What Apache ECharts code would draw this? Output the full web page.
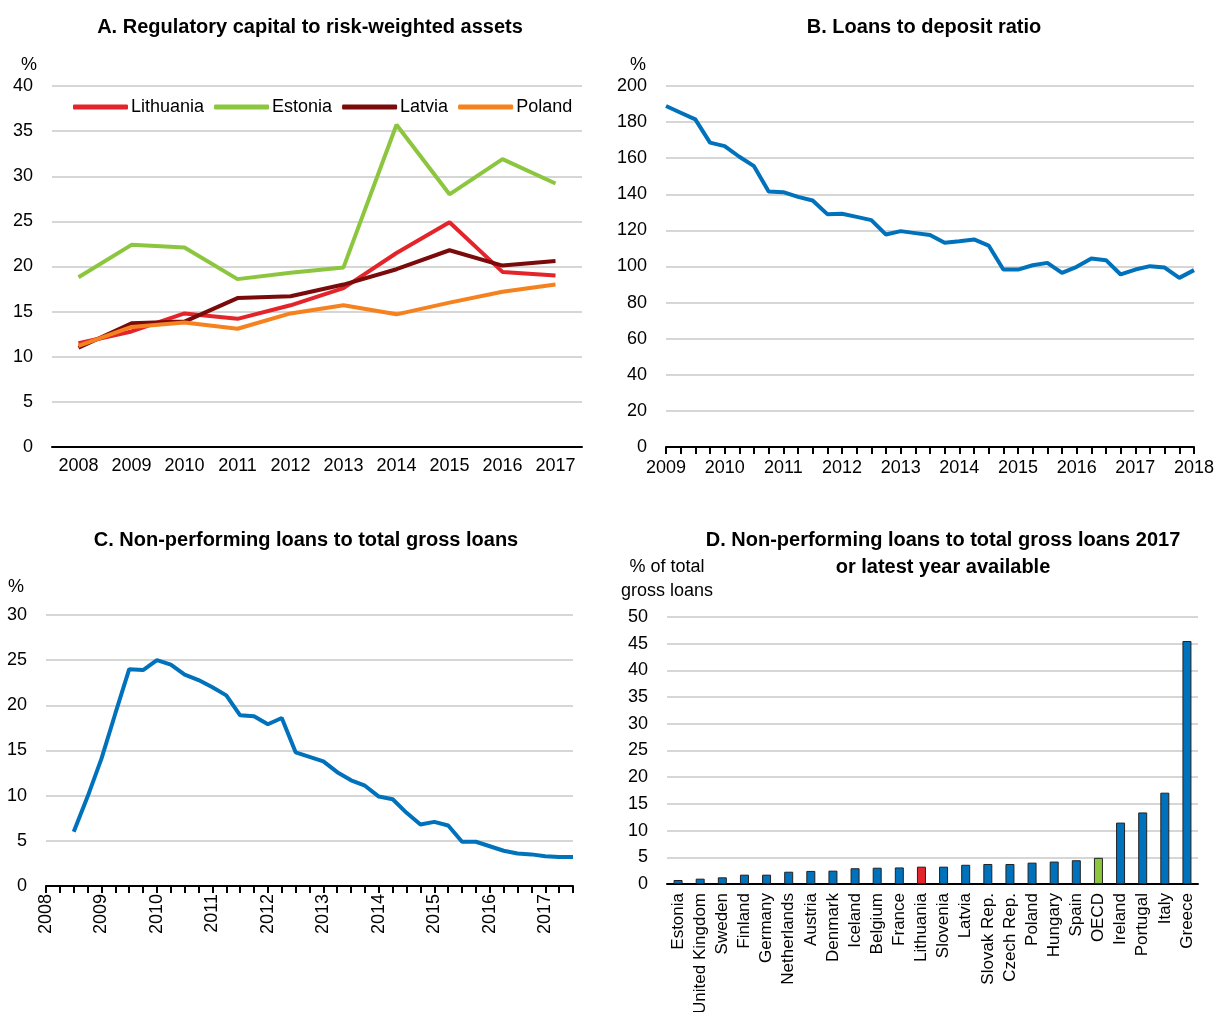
<!DOCTYPE html>
<html>
<head>
<meta charset="utf-8">
<script src="https://cdn.jsdelivr.net/npm/echarts@6/dist/echarts.min.js"></script>
<style>
  html, body { margin: 0; padding: 0; background: #fff; }
  #chart { width: 1214px; height: 1012px; }
</style>
</head>
<body>
<div id="chart"></div>
<script>
// Panel A: regulatory capital to risk-weighted assets (annual)
var yearsA = ['2008', '2009', '2010', '2011', '2012', '2013', '2014', '2015', '2016', '2017'];
var lithuania = [11.5, 12.8, 14.8, 14.2, 15.7, 17.6, 21.5, 24.9, 19.4, 19.0];
var estonia   = [18.8, 22.4, 22.1, 18.6, 19.3, 19.9, 35.7, 28.0, 31.9, 29.2];
var latvia    = [11.0, 13.7, 13.9, 16.5, 16.7, 18.0, 19.7, 21.8, 20.1, 20.6];
var poland    = [11.2, 13.3, 13.8, 13.1, 14.8, 15.7, 14.7, 16.0, 17.2, 18.0];

// Panel B: loans to deposit ratio (quarterly, 2009 to 2018)
var yearsB = ['2009', '2010', '2011', '2012', '2013', '2014', '2015', '2016', '2017', '2018'];
var loanDeposit = [188.9, 185.2, 181.5, 168.6, 166.7, 160.8, 155.6, 141.6, 141.2, 138.6,
  136.6, 129.0, 129.2, 127.5, 125.7, 117.7, 119.6, 118.5, 117.4, 113.1,
  114.0, 115.0, 111.6, 98.3, 98.3, 100.7, 102.0, 96.5, 99.8, 104.4,
  103.5, 95.6, 98.3, 100.2, 99.4, 93.7, 98.0];

// Panel C: non-performing loans (quarterly, 2008 to 2017 Q3)
var yearsC = ['2008', '2009', '2010', '2011', '2012', '2013', '2014', '2015', '2016', '2017'];
var npl = ['-', '-', 6.0, 9.9, 14.1, 19.1, 24.0, 23.9, 25.0, 24.5,
  23.4, 22.8, 22.0, 21.1, 18.9, 18.8, 17.9, 18.6, 14.8, 14.3,
  13.8, 12.6, 11.7, 11.1, 9.9, 9.6, 8.1, 6.8, 7.1, 6.7,
  4.9, 4.9, 4.4, 3.9, 3.6, 3.5, 3.3, 3.2, 3.2];

// Panel D: NPL 2017 by country
var countries = ['Estonia', 'United Kingdom', 'Sweden', 'Finland', 'Germany', 'Netherlands', 'Austria',
  'Denmark', 'Iceland', 'Belgium', 'France', 'Lithuania', 'Slovenia', 'Latvia', 'Slovak Rep.',
  'Czech Rep.', 'Poland', 'Hungary', 'Spain', 'OECD', 'Ireland', 'Portugal', 'Italy', 'Greece'];
var nplCountry = [0.75, 1.0, 1.25, 1.75, 1.75, 2.3, 2.45, 2.5, 2.95, 3.05, 3.1, 3.25, 3.25,
  3.6, 3.75, 3.75, 4.0, 4.2, 4.45, 4.9, 11.5, 13.4, 17.1, 45.5];

var FONT = "'Liberation Sans Narrow', 'Arial Narrow', 'Liberation Sans', sans-serif";
var BLUE = '#0072bc';

// quarter categories, year label on first quarter
function quarters(years, n) {
  var out = [];
  for (var i = 0; i < n; i++) {
    out.push(i % 4 === 0 ? years[i / 4] : '');
  }
  return out;
}
var catB = quarters(yearsB, loanDeposit.length);
var catC = quarters(yearsC, npl.length);

var barData = nplCountry.map(function (v, i) {
  var c = BLUE;
  if (countries[i] === 'Lithuania') c = '#e3242b';
  if (countries[i] === 'OECD') c = '#8cc63f';
  return { value: v, itemStyle: { color: c } };
});

var axisLine = { lineStyle: { color: '#000', width: 2 } };
var tick = { lineStyle: { color: '#000', width: 2 }, length: 7 };
var split = { show: true, lineStyle: { color: '#d6d6d6', width: 2 } };
var lbl = { color: '#000', fontSize: 18, fontFamily: FONT };
var titleStyle = { color: '#000', fontSize: 20, fontWeight: 'bold', fontFamily: FONT, lineHeight: 27 };

function yAx(idx, max, interval, name, pad, gap, extra) {
  var o = {
    type: 'value', gridIndex: idx, min: 0, max: max, interval: interval,
    name: name, nameLocation: 'end', nameGap: gap,
    nameTextStyle: { color: '#000', fontSize: 18, fontFamily: FONT, align: 'right', padding: [0, pad, 0, 0], lineHeight: 24 },
    axisLine: { show: false }, axisTick: { show: false },
    axisLabel: Object.assign({ margin: 19 }, lbl),
    splitLine: split
  };
  return Object.assign(o, extra || {});
}

var myChart = echarts.init(document.getElementById('chart'));
myChart.setOption({
  animation: false,
  title: [
    { text: 'A. Regulatory capital to risk-weighted assets', left: 310, top: 14, textAlign: 'center', padding: 0, textStyle: titleStyle },
    { text: 'B. Loans to deposit ratio', left: 924, top: 14, textAlign: 'center', padding: 0, textStyle: titleStyle },
    { text: 'C. Non-performing loans to total gross loans', left: 306, top: 527, textAlign: 'center', padding: 0, textStyle: titleStyle },
    { text: 'D. Non-performing loans to total gross loans 2017\nor latest year available', left: 943, top: 527, textAlign: 'center', padding: 0, textStyle: titleStyle }
  ],
  legend: {
    data: ['Lithuania', 'Estonia', 'Latvia', 'Poland'],
    left: 68, top: 93, itemWidth: 55, itemHeight: 5, itemGap: 10, icon: 'roundRect',
    textStyle: { color: '#000', fontSize: 18, fontFamily: FONT, padding: [0, 0, 0, -2] }
  },
  grid: [
    { left: 52, right: 632, top: 86, bottom: 565, outerBoundsMode: 'none' },
    { left: 666, right: 20, top: 86, bottom: 565, outerBoundsMode: 'none' },
    { left: 46, right: 641, top: 615, bottom: 126, outerBoundsMode: 'none' },
    { left: 667, right: 16, top: 617, bottom: 128, outerBoundsMode: 'none' }
  ],
  xAxis: [
    { type: 'category', gridIndex: 0, data: yearsA, boundaryGap: true,
      axisLine: axisLine, axisTick: tick, axisLabel: Object.assign({ margin: 10, interval: 0 }, lbl) },
    { type: 'category', gridIndex: 1, data: catB, boundaryGap: false,
      axisLine: axisLine, axisTick: Object.assign({ interval: 0 }, tick),
      axisLabel: Object.assign({ margin: 12, interval: 3 }, lbl) },
    { type: 'category', gridIndex: 2, data: catC, boundaryGap: false,
      axisLine: axisLine, axisTick: Object.assign({ interval: 0 }, tick),
      axisLabel: Object.assign({ margin: 8, interval: 3, rotate: 90 }, lbl) },
    { type: 'category', gridIndex: 3, data: countries, boundaryGap: true,
      axisLine: axisLine, axisTick: tick,
      axisLabel: Object.assign({}, lbl, { margin: 9, interval: 0, rotate: 90, fontSize: 17 }) }
  ],
  yAxis: [
    yAx(0, 40, 5, '%', 15, 9),
    yAx(1, 200, 20, '%', 20, 9),
    yAx(2, 30, 5, '%', 22, 16),
    yAx(3, 50, 5, '% of total\ngross loans', 0, 14, {
      nameTextStyle: { color: '#000', fontSize: 18, fontFamily: FONT, align: 'center', lineHeight: 24 }
    })
  ],
  series: [
    { name: 'Lithuania', type: 'line', xAxisIndex: 0, yAxisIndex: 0, data: lithuania, symbol: 'none', color: '#e3242b', lineStyle: { width: 4 } },
    { name: 'Estonia', type: 'line', xAxisIndex: 0, yAxisIndex: 0, data: estonia, symbol: 'none', color: '#8cc63f', lineStyle: { width: 4 } },
    { name: 'Latvia', type: 'line', xAxisIndex: 0, yAxisIndex: 0, data: latvia, symbol: 'none', color: '#7b0a0a', lineStyle: { width: 4 } },
    { name: 'Poland', type: 'line', xAxisIndex: 0, yAxisIndex: 0, data: poland, symbol: 'none', color: '#f5821f', lineStyle: { width: 4 } },
    { name: 'Loans to deposits', type: 'line', xAxisIndex: 1, yAxisIndex: 1, data: loanDeposit, symbol: 'none', color: BLUE, lineStyle: { width: 4 } },
    { name: 'NPL', type: 'line', xAxisIndex: 2, yAxisIndex: 2, data: npl, symbol: 'none', color: BLUE, lineStyle: { width: 4 } },
    { name: 'NPL 2017', type: 'bar', xAxisIndex: 3, yAxisIndex: 3, data: barData, barWidth: 9,
      itemStyle: { borderColor: '#222', borderWidth: 1 } }
  ]
});
</script>
</body>
</html>
